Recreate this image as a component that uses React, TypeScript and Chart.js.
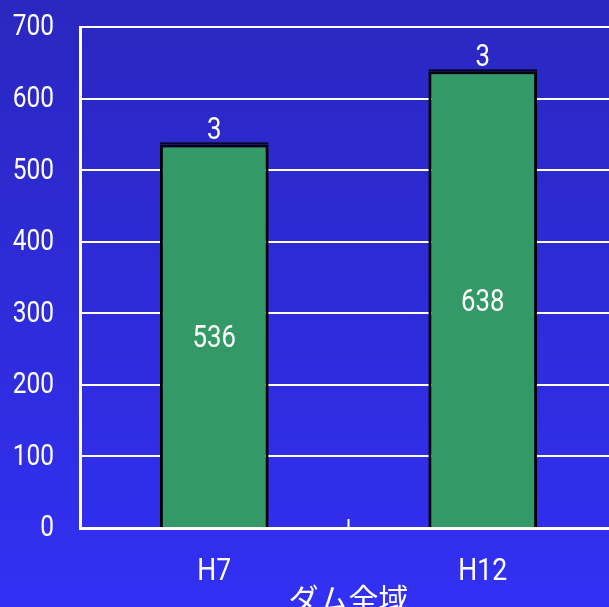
import React, { useEffect, useRef } from "react";
import { Chart, registerables } from "chart.js";

Chart.register(...registerables);

const categories = ["H7", "H12"];
const mainValues = [536, 638];
const topValues = [3, 3];
const yTicks = [0, 100, 200, 300, 400, 500, 600, 700];
const groupLabel = "ダム全域";

const FONT = "Roboto, 'DejaVu Sans', sans-serif";
const SQUEEZE = 0.83;

function narrowText(ctx: any, text: string, x: number, y: number, size: number, align: string, baseline: string) {
  ctx.save();
  ctx.font = `${size}px ${FONT}`;
  ctx.textAlign = align;
  ctx.textBaseline = baseline;
  ctx.translate(x, y);
  ctx.scale(SQUEEZE, 1);
  ctx.fillText(text, 0, 0);
  ctx.restore();
}

const bgPlugin = {
  id: "bg",
  beforeDraw(chart: any) {
    const { ctx, width, height } = chart;
    const g = ctx.createLinearGradient(0, 0, 0, height);
    g.addColorStop(0, "rgb(42,39,192)");
    g.addColorStop(1, "rgb(50,48,243)");
    ctx.save();
    ctx.fillStyle = g;
    ctx.fillRect(0, 0, width, height);
    ctx.restore();
  },
};

const labelPlugin = {
  id: "labels",
  afterDraw(chart: any) {
    const { ctx, chartArea } = chart;
    ctx.save();
    ctx.fillStyle = "#ffffff";
    // y tick labels
    const ys = chart.scales.y;
    ys.ticks.forEach((t: any) => {
      narrowText(ctx, String(t.value), chartArea.left - 26, ys.getPixelForValue(t.value) + 1, 29.5, "right", "middle");
    });
    // x tick labels
    const xs = chart.scales.x;
    categories.forEach((c, i) => {
      narrowText(ctx, c, xs.getPixelForValue(i), chartArea.bottom + 44, 32, "center", "middle");
    });
    // value labels
    const m0 = chart.getDatasetMeta(0);
    m0.data.forEach((bar: any, i: number) => {
      narrowText(ctx, String(mainValues[i]), bar.x, (bar.y + bar.base) / 2 + 4, 31, "center", "middle");
    });
    const m1 = chart.getDatasetMeta(1);
    m1.data.forEach((bar: any, i: number) => {
      narrowText(ctx, String(topValues[i]), bar.x, bar.y - 3, 31, "center", "alphabetic");
    });
    // small inner tick between categories
    const x = (xs.getPixelForValue(0) + xs.getPixelForValue(1)) / 2;
    ctx.strokeStyle = "#ffffff";
    ctx.lineWidth = 2;
    ctx.beginPath();
    ctx.moveTo(x, chartArea.bottom);
    ctx.lineTo(x, chartArea.bottom - 9);
    ctx.stroke();
    ctx.restore();
  },
};

export default function App() {
  const ref = useRef<HTMLCanvasElement>(null);
  useEffect(() => {
    if (!ref.current) return;
    const chart = new Chart(ref.current, {
      type: "bar",
      data: {
        labels: categories,
        datasets: [
          {
            data: mainValues,
            backgroundColor: "#339966",
            borderColor: "#000000",
            borderWidth: 3,
            categoryPercentage: 1,
            barPercentage: 0.405,
          },
          {
            data: topValues,
            backgroundColor: "#000000",
            borderColor: "#000000",
            borderWidth: 2,
            categoryPercentage: 1,
            barPercentage: 0.405,
          },
        ],
      },
      options: {
        animation: false,
        responsive: false,
        devicePixelRatio: 1,
        layout: { padding: { top: 27, right: 3, left: 0, bottom: 0 } },
        plugins: { legend: { display: false }, tooltip: { enabled: false } },
        scales: {
          x: {
            stacked: true,
            grid: { display: false, drawTicks: false },
            border: { display: true, color: "#ffffff", width: 3 },
            ticks: { display: false },
            title: {
              display: true,
              text: groupLabel,
              color: "#ffffff",
              font: { family: "'Noto Sans CJK JP', sans-serif", size: 30, lineHeight: 1 },
              padding: { top: 0, bottom: -7 },
            },
            afterFit(scale: any) {
              scale.height = 79;
            },
          },
          y: {
            stacked: true,
            min: 0,
            max: 700,
            afterBuildTicks(scale: any) {
              scale.ticks = yTicks.map((v) => ({ value: v }));
            },
            grid: { color: "#ffffff", lineWidth: 2, drawTicks: false },
            border: { display: true, color: "#ffffff", width: 3 },
            ticks: { display: false },
            afterFit(scale: any) {
              scale.width = 80;
            },
          },
        },
      },
      plugins: [bgPlugin, labelPlugin],
    });
    return () => chart.destroy();
  }, []);
  return (
    <div
      style={{
        position: "fixed",
        left: 0,
        top: 0,
        width: 609,
        height: 607,
        overflow: "hidden",
      }}
    >
      <canvas ref={ref} width={620} height={607} style={{ width: 620, height: 607, display: "block" }} />
    </div>
  );
}
